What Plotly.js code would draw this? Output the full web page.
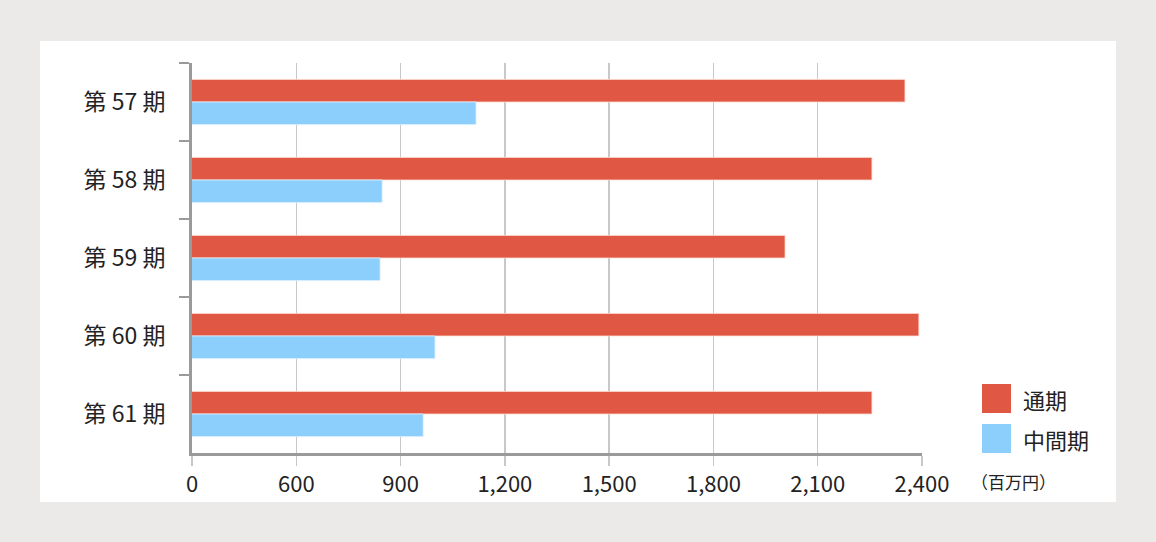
<!DOCTYPE html>
<html>
<head>
<meta charset="utf-8">
<script src="https://cdn.plot.ly/plotly-3.0.1.min.js"></script>
<style>
html,body{margin:0;padding:0;background:#ebeae8;}
#chart{width:1156px;height:542px;}
</style>
</head>
<body>
<div id="chart"></div>
<script>
const categories = ['第 57 期', '第 58 期', '第 59 期', '第 60 期', '第 61 期'];
const fullYear = [2351, 2256, 2006, 2391, 2256];
const interim = [1117, 847, 841, 999, 965];
const seriesNames = ['通期', '中間期'];
const tickVals = [300, 600, 900, 1200, 1500, 1800, 2100, 2400];
const tickText = ['0', '600', '900', '1,200', '1,500', '1,800', '2,100', '2,400'];
const unitLabel = '（百万円）';

const RED = '#e05744', BLUE = '#8ccefc';
const FONT = '"Noto Sans CJK JP", "Noto Sans", sans-serif';

const traces = [
  {type:'bar', orientation:'h', name:seriesNames[0], y:categories, x:fullYear,
   marker:{color:RED, line:{color:'rgba(255,220,210,0.8)', width:1}}, showlegend:false, hoverinfo:'x'},
  {type:'bar', orientation:'h', name:seriesNames[1], y:categories, x:interim,
   marker:{color:BLUE, line:{color:'rgba(220,240,255,0.8)', width:1}}, showlegend:false, hoverinfo:'x'}
];

const L = 192, T = 63, W = 730, H = 390;
const px = v => (v - L) / W;
const py = v => (T + H - v) / H;

const layout = {
  width:1156, height:542,
  margin:{l:L, r:1156-L-W, t:T, b:542-T-H},
  paper_bgcolor:'#ebeae8', plot_bgcolor:'#ffffff',
  barmode:'group', bargap:0.42, bargroupgap:0,
  font:{family:FONT, color:'#222'},
  xaxis:{range:[300, 2400], tickvals:tickVals, ticktext:tickText,
    showgrid:true, gridcolor:'#c8c8c8', gridwidth:1.5, zeroline:false,
    showline:true, linecolor:'#9a9a9a', linewidth:3,
    ticks:'outside', ticklen:10, tickcolor:'#c8c8c8', tickwidth:1.5,
    tickfont:{family:FONT, size:22, color:'#222'}, fixedrange:true},
  yaxis:{type:'category', categoryorder:'array', categoryarray:categories, autorange:'reversed',
    tickson:'boundaries', ticks:'outside', ticklen:10, tickcolor:'#9a9a9a', tickwidth:2,
    showline:true, linecolor:'#9a9a9a', linewidth:3, showgrid:false, zeroline:false,
    ticklabelstandoff:19,
    tickfont:{family:FONT, size:23, color:'#222'}, fixedrange:true},
  shapes:[
    {type:'rect', xref:'paper', yref:'paper', x0:px(40), x1:px(1116), y0:py(502), y1:py(41),
     fillcolor:'#ffffff', line:{width:0}, layer:'below'},
    {type:'rect', xref:'paper', yref:'paper', x0:px(982), x1:px(1011), y0:py(413), y1:py(384),
     fillcolor:RED, line:{width:0}},
    {type:'rect', xref:'paper', yref:'paper', x0:px(982), x1:px(1011), y0:py(453), y1:py(424),
     fillcolor:BLUE, line:{width:0}}
  ],
  annotations:[
    {xref:'paper', yref:'paper', x:px(1021), y:py(398.5), xanchor:'left', yanchor:'middle',
     text:seriesNames[0], showarrow:false, font:{family:FONT, size:22, color:'#222'}},
    {xref:'paper', yref:'paper', x:px(1021), y:py(438.5), xanchor:'left', yanchor:'middle',
     text:seriesNames[1], showarrow:false, font:{family:FONT, size:22, color:'#222'}},
    {xref:'paper', yref:'paper', x:px(1013), y:py(481), xanchor:'center', yanchor:'middle',
     text:unitLabel, showarrow:false, font:{family:FONT, size:17, color:'#222'}}
  ]
};

Plotly.newPlot('chart', traces, layout, {displayModeBar:false, staticPlot:true});
</script>
</body>
</html>
